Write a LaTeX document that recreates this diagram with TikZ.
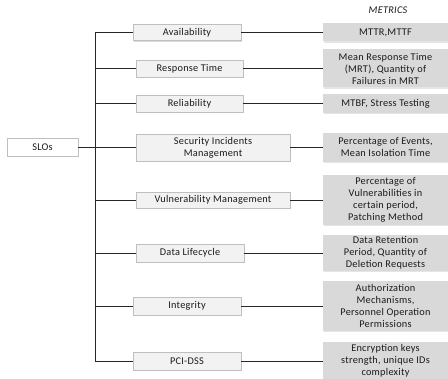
\documentclass[tikz,border=0pt]{standalone}
\usepackage{fontspec}
\setmainfont[LetterSpace=2.5]{Carlito}
\usetikzlibrary{shadows}
\definecolor{lbfill}{HTML}{F2F2F2}
\definecolor{lbdraw}{HTML}{BFBFBF}
\definecolor{rbfill}{HTML}{D9D9D9}
\definecolor{txt}{HTML}{1A1A1A}
\definecolor{wire}{HTML}{262626}
\begin{document}
\begin{tikzpicture}[x=1pt,y=-1pt,
  every node/.style={font=\fontsize{10.3}{12}\selectfont, text=txt, inner sep=0pt, align=center},
  catbox/.style={draw=lbdraw, fill=lbfill, line width=0.6pt,
    drop shadow={shadow xshift=1pt, shadow yshift=-1.2pt, fill=black!15, opacity=1}},
  rootbox/.style={draw=lbdraw, fill=white, line width=0.6pt,
    drop shadow={shadow xshift=1pt, shadow yshift=-1.2pt, fill=black!12, opacity=1}},
  metbox/.style={fill=rbfill, minimum width=125pt,
    drop shadow={shadow xshift=1pt, shadow yshift=-1.2pt, fill=black!10, opacity=1}},
  wirestyle/.style={draw=wire, line width=0.9pt}
]
\useasboundingbox (0,0) rectangle (448,379);

% column heading
\node[font=\itshape\fontsize{10.3}{12}\selectfont] (head) at (388,10) {METRICS};

% root
\node[rootbox, minimum width=71pt, minimum height=18pt] (slo) at (42.5,147) {SLOs};

% categories
\node[catbox, minimum width=108pt, minimum height=16pt] (c1) at (187,32.5) {Availability};
\node[catbox, minimum width=107pt, minimum height=17pt] (c2) at (189.5,68.5) {Response Time};
\node[catbox, minimum width=107pt, minimum height=17pt] (c3) at (189.5,103.5) {Reliability};
\node[catbox, minimum width=154pt, minimum height=27pt] (c4) at (213,147.5) {Security Incidents\\Management};
\node[catbox, minimum width=154pt, minimum height=16pt] (c5) at (213,200) {Vulnerability Management};
\node[catbox, minimum width=108pt, minimum height=18pt] (c6) at (190,253) {Data Lifecycle};
\node[catbox, minimum width=108pt, minimum height=18pt] (c7) at (187,306) {Integrity};
\node[catbox, minimum width=108pt, minimum height=18pt] (c8) at (187,361) {PCI-DSS};

% metrics
\node[metbox, minimum height=18pt] (m1) at (385.5,32.5) {MTTR,MTTF};
\node[metbox, minimum height=38pt] (m2) at (385.5,68.5) {Mean Response Time\\(MRT), Quantity of\\Failures in MRT};
\node[metbox, minimum height=19pt] (m3) at (385.5,103.5) {MTBF, Stress Testing};
\node[metbox, minimum height=29pt] (m4) at (385.5,147.5) {Percentage of Events,\\Mean Isolation Time};
\node[metbox, minimum height=50pt] (m5) at (385.5,200) {Percentage of\\Vulnerabilities in\\certain period,\\Patching Method};
\node[metbox, minimum height=36pt] (m6) at (385.5,253) {Data Retention\\Period, Quantity of\\Deletion Requests};
\node[metbox, minimum height=50pt] (m7) at (385.5,306) {Authorization\\Mechanisms,\\Personnel Operation\\Permissions};
\node[metbox, minimum height=38pt] (m8) at (385.5,361) {Encryption keys\\strength, unique IDs\\complexity};

% trunk
\coordinate (tx) at (95,0);
\draw[wirestyle] (c1.west -| tx) -- (c8.west -| tx);
\draw[wirestyle] (slo.east) -- (slo.east -| tx);
\foreach \i in {1,...,8} {
  \draw[wirestyle] (c\i.west -| tx) -- (c\i.west);
  \draw[wirestyle] (c\i.east) -- (m\i.west);
}
\end{tikzpicture}
\end{document}
